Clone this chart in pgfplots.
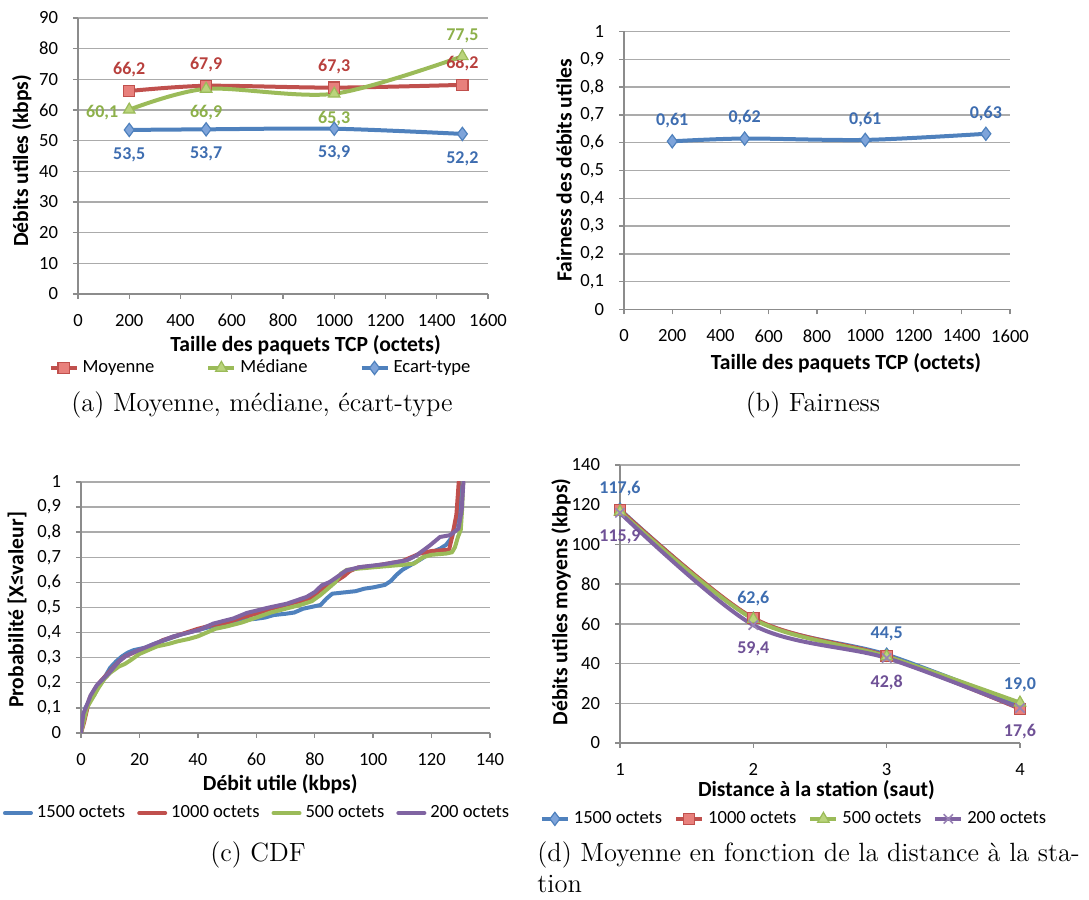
\documentclass[border=0pt]{standalone}
\usepackage{fontspec}
\usepackage{pgfplots}
\pgfplotsset{compat=1.18}
\newfontfamily\calibri{Carlito}
\definecolor{cblue}{HTML}{4F81BD}
\definecolor{cred}{HTML}{C0504D}
\definecolor{cgreen}{HTML}{9BBB59}
\definecolor{cpurple}{HTML}{8064A2}
\definecolor{lblue}{HTML}{3E6DB0}
\definecolor{lred}{HTML}{B8403D}
\definecolor{lgreen}{HTML}{8DB04A}
\definecolor{lpurple}{HTML}{6F5196}
\definecolor{fblue}{HTML}{7EA4DA}
\definecolor{fred}{HTML}{E8807C}
\definecolor{fgreen}{HTML}{BAD47C}
\definecolor{gridc}{HTML}{ABABAB}
\definecolor{axc}{HTML}{8C8C8C}
\pgfplotsset{
  excel/.style={
    scale only axis,
    axis lines=left,
    axis line style={-, draw=axc, line width=0.7pt},
    tick align=outside,
    major tick length=2.5pt,
    tick style={draw=axc, line width=0.7pt},
    ymajorgrids,
    major grid style={draw=gridc, line width=0.7pt},
    scaled ticks=false,
    /pgf/number format/.cd, use comma, 1000 sep={}, assume math mode=true, /pgfplots/.cd,
    tick label style={font=\calibri\fontsize{9.3}{11}\selectfont, text=black},
    xticklabel style={yshift=-4pt},
    yticklabel style={xshift=-4pt},
    label style={font=\calibri\bfseries\fontsize{10.8}{12}\selectfont},
    legend style={draw=none, fill=none, font=\calibri\fontsize{9.3}{11}\selectfont,
      cells={anchor=west, inner xsep=1pt}},
    legend cell align=left,
  },
  labs/.style={nodes near coords, point meta=explicit symbolic,
    visualization depends on={\thisrow{dx}\as\dx},
    visualization depends on={\thisrow{dy}\as\dy},
    every node near coord/.append style={anchor=center, xshift=\dx pt, yshift=\dy pt,
      font=\calibri\bfseries\fontsize{9}{10}\selectfont, text=#1}},
  mleg/.style={legend image code/.code={\draw[mark repeat=2,mark phase=2,##1] plot coordinates {(0pt,0pt) (6.5pt,0pt) (13pt,0pt)};}},
}
\begin{document}
\begin{tikzpicture}
\useasboundingbox (0,0) rectangle (544.5pt,450pt);
% ---------------- (a)
\begin{axis}[excel, mleg, at={(39pt,303pt)}, anchor=south west, width=205pt, height=138pt,
  xmin=0, xmax=1600, ymin=0, ymax=90,
  xtick={0,200,...,1600}, ytick={0,10,...,90},
  xlabel={Taille des paquets TCP (octets)}, ylabel={Débits utiles (kbps)},
  xlabel style={at={(axis description cs:0.555,-0.185)}, anchor=center},
  ylabel style={at={(axis description cs:-0.137,0.482)}, anchor=center},
  legend columns=3,
  legend style={at={(0.4476,-0.268)}, anchor=center,
    /tikz/every even column/.append style={column sep=24pt}},
]
\addplot[smooth, cred, line width=2pt, mark=square*, mark options={fill=fred, draw=cred, line width=0.6pt, mark size=2.8pt}, labs=lred] table[meta=lab] {
x y lab dx dy
200 66.2 66,2 0 10.5
500 67.9 67,9 0 10.5
1000 67.3 67,3 0 10.5
1500 68.2 68,2 0 10.5
};
\addlegendentry{Moyenne}
\addplot[smooth, cgreen, line width=2pt, mark=triangle*, mark options={fill=fgreen, draw=cgreen, line width=0.6pt, mark size=3.3pt}, labs=lgreen] table[meta=lab] {
x y lab dx dy
200 60.1 60,1 -13.5 -1.5
500 66.9 66,9 0 -12
1000 65.3 65,3 0 -12.3
1500 77.5 77,5 0 10
};
\addlegendentry{Médiane}
\addplot[smooth, cblue, line width=2pt, mark=diamond*, mark options={fill=fblue, draw=cblue, line width=0.6pt, mark size=3.3pt}, labs=lblue] table[meta=lab] {
x y lab dx dy
200 53.5 53,5 0 -12.3
500 53.7 53,7 0 -12.3
1000 53.9 53,9 0 -12.3
1500 52.2 52,2 0 -12.3
};
\addlegendentry{Ecart-type}
\end{axis}
% ---------------- (b)
\begin{axis}[excel, at={(312pt,295.25pt)}, anchor=south west, width=193pt, height=139pt,
  xmin=0, xmax=1600, ymin=0, ymax=1,
  xtick={0,200,...,1600}, ytick={0,0.1,0.2,0.3,0.4,0.5,0.6,0.7,0.8,0.9,1},
  xlabel={Taille des paquets TCP (octets)}, ylabel={Fairness des débits utiles},
  xlabel style={at={(axis description cs:0.575,-0.192)}, anchor=center},
  ylabel style={at={(axis description cs:-0.155,0.5)}, anchor=center},
]
\addplot[smooth, cblue, line width=2pt, mark=diamond*, mark options={fill=fblue, draw=cblue, line width=0.6pt, mark size=3.3pt}, labs=lblue] table[meta=lab] {
x y lab dx dy
200 0.605 0,61 0 10.3
500 0.615 0,62 0 10.3
1000 0.610 0,61 0 10.3
1500 0.632 0,63 0 10.3
};
\end{axis}
% ---------------- (c)
\begin{axis}[excel, at={(40.5pt,83.5pt)}, anchor=south west, width=204.5pt, height=125.5pt,
  xmin=0, xmax=140, ymin=0, ymax=1,
  xtick={0,20,...,140}, ytick={0,0.1,0.2,0.3,0.4,0.5,0.6,0.7,0.8,0.9,1},
  xlabel={Débit utile (kbps)}, ylabel={Probabilité [X≤valeur]},
  xlabel style={at={(axis description cs:0.487,-0.203)}, anchor=center},
  ylabel style={at={(axis description cs:-0.156,0.49)}, anchor=center},
  legend columns=4,
  legend style={at={(0.433,-0.319)}, anchor=center,
    cells={anchor=west, inner xsep=0.5pt},
    /tikz/every even column/.append style={column sep=4pt}},
  legend image code/.code={\draw[#1, line width=2pt] (0pt,0pt) -- (13pt,0pt);},
  every axis plot/.append style={line width=2pt, line join=round, line cap=round},
]
\addplot[cblue] coordinates {(0,0) (0.5,0.05) (1.5,0.10) (3,0.13) (4.5,0.15) (6,0.19) (8,0.22) (10,0.26) (12,0.285) (14,0.305) (16,0.32) (18,0.33) (22,0.34) (25,0.355) (30,0.375) (35,0.395) (40,0.41) (45,0.425) (50,0.44) (55,0.45) (60,0.455) (63,0.46) (66,0.47) (70,0.475) (73,0.48) (76,0.495) (80,0.505) (82,0.51) (84,0.535) (86,0.555) (90,0.56) (94,0.565) (97,0.575) (100,0.58) (104,0.59) (106,0.605) (108,0.63) (110,0.65) (113,0.67) (116,0.69) (120,0.72) (123,0.735) (125,0.75) (127,0.78) (128.5,0.85) (129.5,0.92) (130,1.0)};
\addlegendentry{1500 octets}
\addplot[cred] coordinates {(0,0) (1,0.04) (2,0.09) (3,0.14) (5,0.18) (7,0.21) (9,0.235) (11,0.26) (13,0.285) (15,0.305) (17,0.315) (20,0.33) (25,0.35) (28,0.37) (32,0.385) (36,0.40) (40,0.415) (45,0.43) (50,0.44) (55,0.46) (60,0.475) (65,0.495) (70,0.51) (75,0.525) (78,0.535) (80,0.55) (82,0.57) (85,0.59) (88,0.61) (90,0.625) (92,0.645) (95,0.66) (100,0.665) (105,0.675) (110,0.685) (113,0.70) (116,0.715) (120,0.725) (126,0.73) (127,0.78) (128.5,0.87) (129,0.95) (129.3,1.0)};
\addlegendentry{1000 octets}
\addplot[cgreen] coordinates {(0,0) (1,0.05) (2,0.10) (4,0.14) (6,0.18) (8,0.215) (10,0.24) (13,0.265) (15,0.275) (17,0.29) (20,0.315) (23,0.33) (26,0.345) (30,0.355) (33,0.365) (37,0.375) (40,0.385) (43,0.40) (46,0.415) (50,0.425) (55,0.44) (60,0.46) (65,0.48) (70,0.495) (75,0.51) (79,0.525) (82,0.55) (84,0.57) (87,0.6) (89,0.635) (91,0.65) (95,0.655) (100,0.66) (105,0.665) (110,0.67) (114,0.675) (117,0.70) (120,0.71) (125,0.715) (127,0.72) (128,0.74) (129,0.78) (130,0.81) (130.5,0.9) (130.8,1.0)};
\addlegendentry{500 octets}
\addplot[cpurple] coordinates {(0,0) (0.8,0.077) (2.2,0.117) (3.3,0.15) (5.4,0.19) (7.6,0.216) (9.9,0.243) (12.8,0.283) (15.6,0.309) (20.2,0.332) (25.9,0.359) (31.6,0.385) (36.2,0.398) (40.7,0.412) (45.3,0.436) (52.1,0.456) (56.7,0.478) (63.6,0.498) (70.4,0.515) (77.2,0.542) (80.1,0.562) (82.4,0.588) (85.2,0.602) (90.9,0.648) (95.5,0.661) (103.5,0.672) (111.5,0.688) (114.9,0.708) (119.5,0.748) (122.9,0.781) (126.3,0.788) (129.2,0.814) (130.3,0.887) (130.9,1.0)};
\addlegendentry{200 octets}
\end{axis}
% ---------------- (d)
\begin{axis}[excel, mleg, at={(310pt,78.5pt)}, anchor=south west, width=200pt, height=139pt,
  xmin=1, xmax=4, ymin=0, ymax=140,
  xtick={1,2,3,4}, ytick={0,20,...,140},
  xlabel={Distance à la station (saut)}, ylabel={Débits utiles moyens (kbps)},
  xlabel style={at={(axis description cs:0.491,-0.169)}, anchor=center},
  ylabel style={at={(axis description cs:-0.1475,0.507)}, anchor=center},
  legend columns=4,
  legend style={at={(0.4375,-0.273)}, anchor=center,
    cells={anchor=west, inner xsep=0.5pt},
    /tikz/every even column/.append style={column sep=4pt}},
  clip=false,
]
\addplot[smooth, cblue, line width=2pt, mark=diamond*, mark options={fill=fblue, draw=cblue, line width=0.6pt, mark size=3.3pt}, labs=lblue] table[meta=lab] {
x y lab dx dy
1 117.6 117,6 0 10.3
2 62.6 62,6 0 10.3
3 44.5 44,5 0 10.3
4 19.0 19,0 0 10.3
};
\addlegendentry{1500 octets}
\addplot[smooth, cred, line width=2pt, mark=square*, mark options={fill=fred, draw=cred, line width=0.6pt, mark size=2.8pt}] coordinates {(1,117.3) (2,62.9) (3,43.8) (4,17.2)};
\addlegendentry{1000 octets}
\addplot[smooth, cgreen, line width=2pt, mark=triangle*, mark options={fill=fgreen, draw=cgreen, line width=0.6pt, mark size=3.3pt}] coordinates {(1,116.5) (2,62.4) (3,43.6) (4,20.3)};
\addlegendentry{500 octets}
\addplot[smooth, cpurple, line width=2pt, mark=x, mark options={draw=cpurple!80, line width=0.8pt, mark size=3.3pt}, labs=lpurple] table[meta=lab] {
x y lab dx dy
1 115.9 115,9 0 -12
2 59.4 59,4 0 -12
3 42.8 42,8 0 -12
4 17.6 17,6 0 -12
};
\addlegendentry{200 octets}
\end{axis}
% ---------------- captions
\node[anchor=base, font=\fontsize{13.2}{15.5}\selectfont] at (131pt,244pt) {(a) Moyenne, médiane, écart-type};
\node[anchor=base, font=\fontsize{13.2}{15.5}\selectfont] at (406.5pt,244pt) {(b) Fairness};
\node[anchor=base, font=\fontsize{13.2}{15.5}\selectfont] at (129pt,19pt) {(c) CDF};
\node[anchor=base west, inner sep=0pt, align=left, font=\fontsize{13.2}{15.5}\selectfont] at (268.5pt,3.5pt) {(d) Moyenne en fonction de la distance à la sta-\\tion};
\end{tikzpicture}
\end{document}
